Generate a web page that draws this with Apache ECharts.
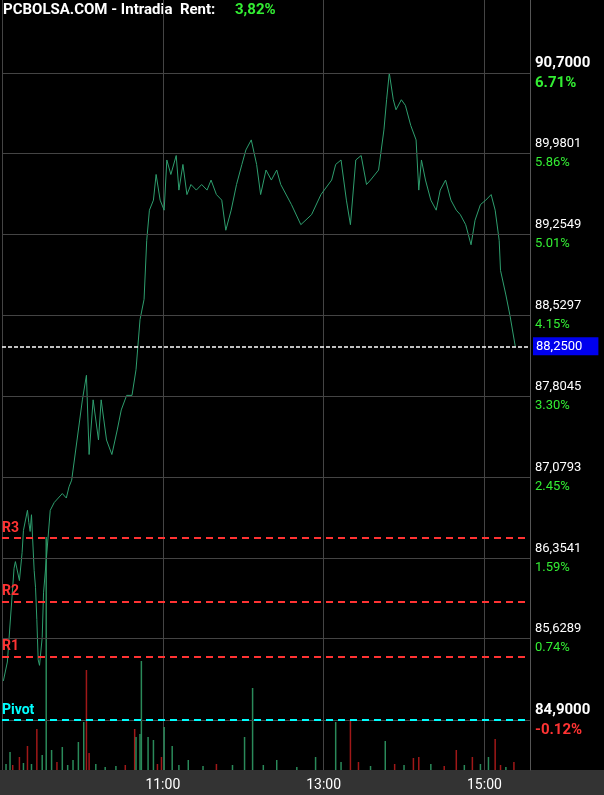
<!DOCTYPE html>
<html><head><meta charset="utf-8">
<script src="https://cdn.jsdelivr.net/npm/echarts@6/dist/echarts.min.js"></script>
<style>html,body{margin:0;background:#000}#c{width:604px;height:795px}</style>
</head><body><div id="c"></div>
<script>
const times=[541,544,549,550,553,555,556,559,560,561,562,564,565,566,567,568,570,571,573,576,579,585,588,590,592,596,600,603,605,608,612,614,618,622,626,629,633,637,640,643,646,648,650,653,655,658,661,663,666,670,672,675,678,681,685,689,693,696,700,704,707,711,715,719,722,726,730,733,737,741,745,748,756,763,771,778,786,789,793,797,800,804,808,812,815,821,825,827,829,832,834,838,841,845,849,851,853,856,860,864,867,871,875,879,882,886,890,893,897,901,905,908,911,912,916,919,923];
const prices=[85.25,85.42,86.26,86.32,86.15,86.40,86.60,86.78,86.67,86.59,86.74,86.24,86.09,85.80,85.44,85.39,85.64,86.04,86.33,86.78,86.85,86.93,86.89,86.99,87.05,87.41,87.77,87.99,87.28,87.77,87.41,87.77,87.41,87.28,87.50,87.68,87.81,87.81,88.04,88.49,88.67,89.20,89.47,89.56,89.79,89.56,89.47,89.92,89.79,89.96,89.65,89.88,89.61,89.70,89.65,89.70,89.65,89.74,89.61,89.56,89.29,89.47,89.70,89.88,90.01,90.10,89.88,89.61,89.83,89.74,89.83,89.70,89.52,89.34,89.43,89.61,89.74,89.88,89.92,89.56,89.34,89.92,89.96,89.70,89.74,89.83,90.19,90.46,90.70,90.46,90.37,90.46,90.41,90.23,90.10,89.65,89.92,89.74,89.56,89.47,89.65,89.74,89.56,89.47,89.43,89.34,89.16,89.38,89.52,89.56,89.61,89.47,89.20,88.93,88.71,88.53,88.25];
const volTimes=[543,546,548,553,556,559,562,566,570,573,577,581,585,589,593,597,601,603,605,610,617,625,632,639,640,643,644,649,653,656,659,661,667,672,679,690,700,712,721,727,735,745,760,774,789,793,800,806,815,826,833,840,847,851,860,870,879,885,891,897,903,908,912,916,922];
const volumes=[6,18,5,13,7,24,6,41,15,233,20,8,23,5,10,28,48,100,17,6,3,4,5,41,33,36,109,33,30,6,13,43,24,5,10,4,6,5,33,82,5,10,3,13,48,8,50,8,4,29,6,5,12,13,6,4,20,5,13,6,13,31,5,3,8];
const volUp=[1,1,0,0,1,0,1,0,1,1,1,0,1,1,1,1,1,0,0,1,1,1,0,0,1,1,1,1,1,0,0,1,1,1,1,1,0,1,1,1,1,1,1,1,1,1,0,0,1,1,0,1,0,0,1,0,0,1,0,1,1,0,0,1,0];
const priceTicks=[84.9,85.6289,86.3541,87.0793,87.8045,88.5297,89.2549,89.9801,90.7];
const tickLabels=['84,9000','85,6289','86,3541','87,0793','87,8045','88,5297','89,2549','89,9801','90,7000'];
const tickPct=['-0.12%','0.74%','1.59%','2.45%','3.30%','4.15%','5.01%','5.86%','6.71%'];
const pivotLevels=[{name:'R3',v:86.53,c:'#ff3333'},{name:'R2',v:85.958,c:'#ff3333'},{name:'R1',v:85.474,c:'#ff3333'},{name:'Pivot',v:84.9,c:'#00ffff'}];
const lastPrice=88.25, lastLabel='88,2500';
const timeLabels={660:'11:00',780:'13:00',900:'15:00'};

const chart=echarts.init(document.getElementById('c'));
const font='Roboto';
chart.setOption({
 backgroundColor:'#000',animation:false,
 graphic:[
  {type:'rect',shape:{x:0,y:770,width:604,height:25},style:{fill:'#333'}},
  {type:'text',left:3,top:3,style:{text:'PCBOLSA.COM - Intradia  Rent:',fill:'#fff',font:'bold 15px Roboto'}},
  {type:'text',left:235,top:3,style:{text:'3,82%',fill:'#33ee33',font:'bold 15px Roboto'}}
 ],
 grid:{left:2,right:74,top:0,bottom:25},
 xAxis:{type:'value',min:540,max:934,interval:120,
  axisLine:{show:false},axisTick:{show:false},
  splitLine:{show:true,lineStyle:{color:'#444',width:1}},
  axisLabel:{color:'#fff',fontFamily:font,fontSize:14,margin:8,showMinLabel:false,showMaxLabel:false,formatter:v=>timeLabels[v]||''}},
 yAxis:[{type:'value',position:'right',min:84.452,max:91.354,
  axisLine:{show:true,lineStyle:{color:'#555'}},axisTick:{show:false},splitLine:{show:false},
  axisLabel:{customValues:priceTicks,margin:5,fontFamily:font,
   formatter:v=>{const i=priceTicks.findIndex(t=>Math.abs(t-v)<1e-6);if(i<0)return '';
     const big=(i===0||i===priceTicks.length-1);
     const pc=tickPct[i].startsWith('-')?'r':'g';
     return '{'+(big?'pb':'p')+'|'+tickLabels[i]+'}\n{'+(big?pc+'b':pc)+'|'+tickPct[i]+'}';},
   rich:{p:{color:'#fff',fontSize:13,lineHeight:19,fontFamily:font},pb:{color:'#fff',fontSize:15,fontWeight:'bold',lineHeight:20,fontFamily:font},
     g:{color:'#33ee33',fontSize:13,lineHeight:19,fontFamily:font},gb:{color:'#33ee33',fontSize:15,fontWeight:'bold',lineHeight:20,fontFamily:font},
     r:{color:'#ff3333',fontSize:13,lineHeight:19},rb:{color:'#ff3333',fontSize:15,fontWeight:'bold',lineHeight:20,fontFamily:font}}}},
  {type:'value',min:0,max:770,show:false}],
 series:[
  {type:'line',silent:true,data:[],markLine:{symbol:'none',silent:true,label:{show:false},
    lineStyle:{color:'#444',type:'solid',width:1},data:priceTicks.map(v=>({yAxis:v}))}},
  {type:'bar',yAxisIndex:1,barWidth:1.5,silent:true,
   data:volTimes.map((t,i)=>({value:[t,volumes[i]],itemStyle:{color:volUp[i]?'#2a8a5a':'#a01818'}}))},
  {type:'line',data:times.map((t,i)=>[t,prices[i]]),showSymbol:false,lineStyle:{color:'#2e9e6e',width:1},
   markLine:{symbol:'none',silent:true,data:[
    ...pivotLevels.map(p=>({yAxis:p.v,lineStyle:{color:p.c,type:[7,5],width:2},
      label:{show:true,position:'insideStartTop',formatter:p.name,color:p.c,fontWeight:'bold',fontSize:14,fontFamily:font,distance:[0,3]}})),
    {yAxis:lastPrice,lineStyle:{color:'#fff',type:[4,2],width:1.5},
      label:{show:true,position:'end',formatter:lastLabel,color:'#fff',backgroundColor:'#0000ee',fontSize:13,fontFamily:font,padding:[3,16,2,3],distance:3}}
   ]}}
 ]
});
</script></body></html>
